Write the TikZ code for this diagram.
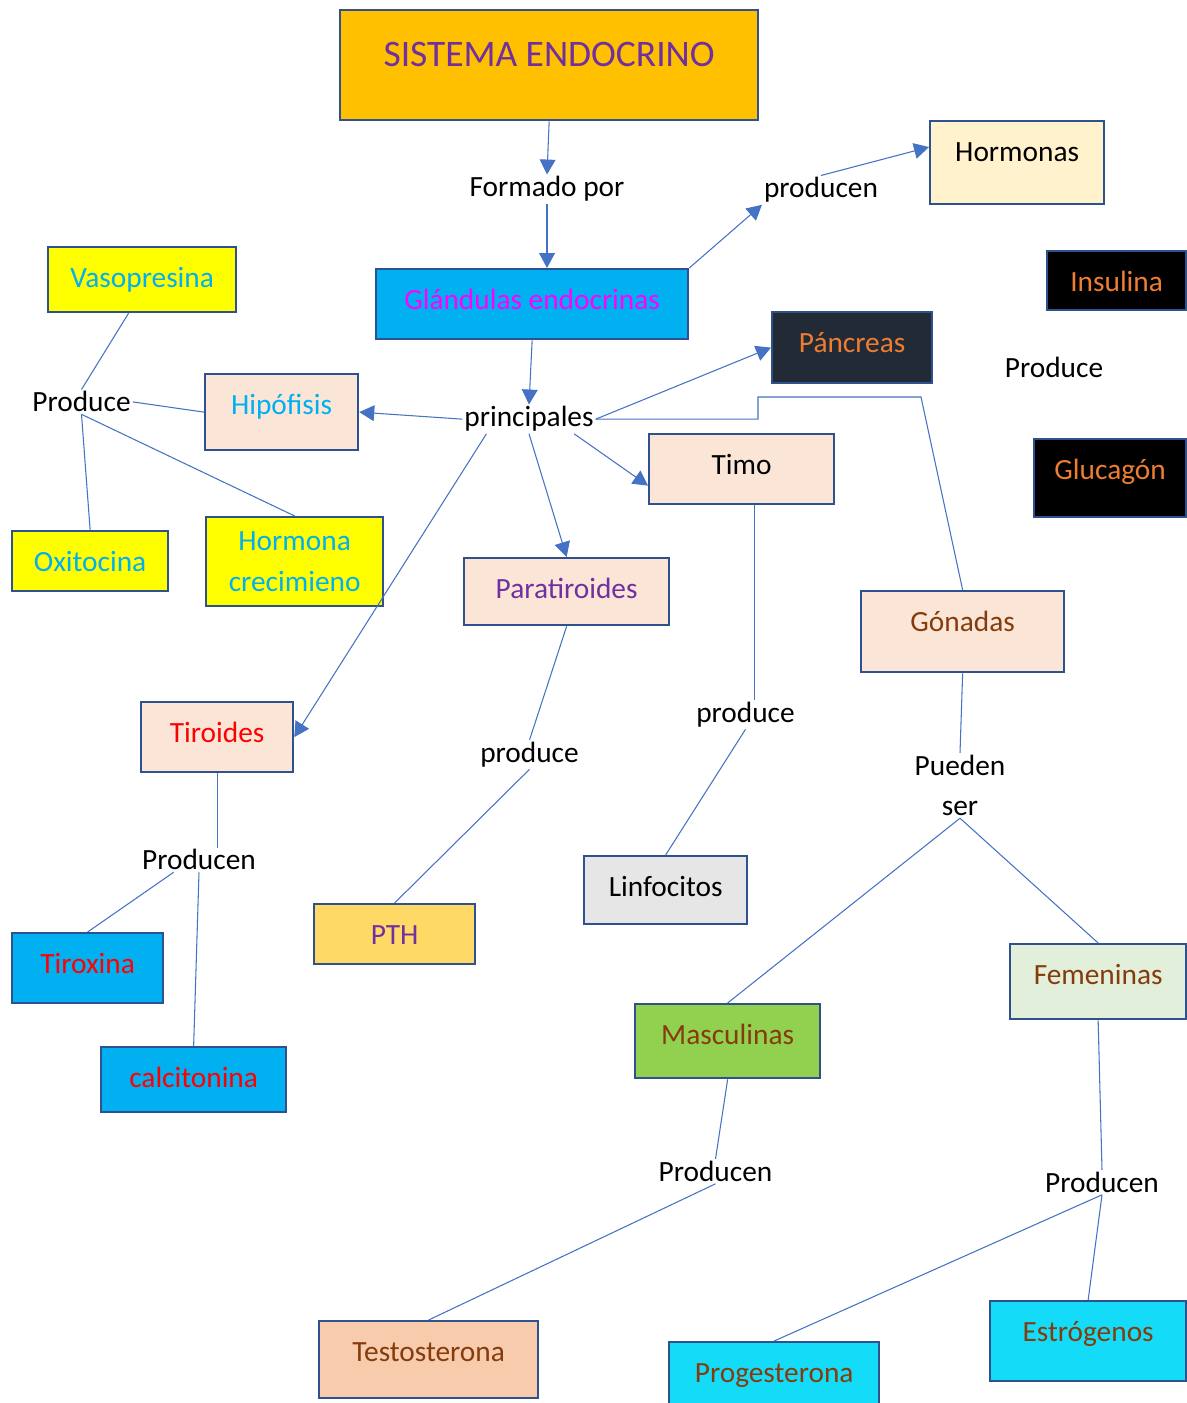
\documentclass[tikz,border=0pt]{standalone}
\usepackage{fontspec}
\setmainfont{Carlito}
\usepackage{xcolor}
\usepackage{tikz}
\usetikzlibrary{arrows.meta, positioning}
\definecolor{eline}{HTML}{4472C4}
\definecolor{eborder}{HTML}{2F528F}
\definecolor{egold}{HTML}{FFC000}
\definecolor{epurple}{HTML}{7030A0}
\definecolor{ecyan}{HTML}{00B0F0}
\definecolor{emagenta}{HTML}{FF00FF}
\definecolor{ecream}{HTML}{FFF2CC}
\definecolor{eorange}{HTML}{ED7D31}
\definecolor{enavy}{HTML}{222A35}
\definecolor{eyellow}{HTML}{FFFF00}
\definecolor{epeach}{HTML}{FBE5D6}
\definecolor{ebrown}{HTML}{843C0C}
\definecolor{ered}{HTML}{FF0000}
\definecolor{esand}{HTML}{FFD966}
\definecolor{egray}{HTML}{E7E6E6}
\definecolor{egreen}{HTML}{92D050}
\definecolor{emint}{HTML}{E2EFDA}
\definecolor{esalmon}{HTML}{F8CBAD}
\definecolor{eaqua}{HTML}{14DCF8}

\newcommand{\lab}{\fontsize{16.7}{23}\selectfont}
\newcommand{\biglab}{\fontsize{21.3}{25}\selectfont}

\tikzset{
  box/.style={draw=eborder, line width=1.3pt, anchor=north west, inner xsep=2pt, inner ysep=0pt, font=\lab},
  toptext/.style={text height=0.8cm, text depth=#1},
  word/.style={font=\lab, inner sep=1pt, anchor=base},
  link/.style={draw=eline, line width=0.6pt},
  arr/.style={link, -{Triangle[length=8.5pt, width=9pt]}}
}

\begin{document}
\begin{tikzpicture}[x=1cm, y=1cm]

  \fill[white] (0,0) rectangle (23.74,28.06);
  \useasboundingbox (0,0) rectangle (23.74,28.06);

  %% Top of the map
  \node[box, fill=egold, text=epurple, font=\biglab, minimum width=8.36cm, text height=1.12cm, text depth=1.08cm] (title) at (6.78,27.88) {SISTEMA ENDOCRINO};
  \node[box, fill=ecyan, text=emagenta, minimum width=6.24cm, toptext=0.60cm] (gland) at (7.50,22.70) {Glándulas endocrinas};
  \node[box, fill=ecream, minimum width=3.48cm, toptext=0.86cm] (horm) at (18.58,25.66) {Hormonas};

  %% Pancreas and its hormones
  \node[box, fill=black, text=eorange, minimum width=2.78cm, toptext=0.38cm] (insul) at (20.92,23.06) {Insulina};
  \node[box, fill=black, text=eorange, minimum width=3.04cm, toptext=0.76cm] (gluc) at (20.66,19.30) {Glucagón};
  \node[box, fill=enavy, text=eorange, minimum width=3.20cm, toptext=0.62cm] (panc) at (15.42,21.84) {Páncreas};

  %% Hipofisis branch
  \node[box, fill=eyellow, text=ecyan, minimum width=3.76cm, toptext=0.50cm] (vaso) at (0.94,23.14) {Vasopresina};
  \node[box, fill=epeach, text=ecyan, minimum width=3.06cm, toptext=0.72cm] (hipo) at (4.08,20.60) {Hipófisis};
  \node[box, fill=eyellow, text=ecyan, minimum width=3.12cm, toptext=0.40cm] (oxi) at (0.22,17.46) {Oxitocina};
  \node[box, fill=eyellow, text=ecyan, minimum width=3.54cm, minimum height=1.78cm, align=center] (hgc) at (4.10,17.74) {Hormona\\crecimieno};

  %% Other glands
  \node[box, fill=epeach, minimum width=3.70cm, toptext=0.60cm] (timo) at (12.96,19.40) {Timo};
  \node[box, fill=epeach, text=epurple, minimum width=4.10cm, toptext=0.54cm] (para) at (9.26,16.92) {Paratiroides};
  \node[box, fill=epeach, text=ebrown, minimum width=4.06cm, toptext=0.82cm] (gon) at (17.20,16.26) {Gónadas};
  \node[box, fill=epeach, text=ered, minimum width=3.04cm, toptext=0.60cm] (tiro) at (2.80,14.04) {Tiroides};

  %% Products
  \node[box, fill=ecyan, text=ered, minimum width=3.02cm, toptext=0.60cm] (tirox) at (0.22,9.42) {Tiroxina};
  \node[box, fill=ecyan, text=ered, minimum width=3.70cm, toptext=0.50cm] (calci) at (2.00,7.14) {calcitonina};
  \node[box, fill=esand, text=epurple, minimum width=3.22cm, toptext=0.40cm] (pth) at (6.26,10.00) {PTH};
  \node[box, fill=egray, minimum width=3.26cm, toptext=0.56cm] (linfo) at (11.66,10.96) {Linfocitos};
  \node[box, fill=egreen, text=ebrown, minimum width=3.70cm, toptext=0.68cm] (masc) at (12.68,8.00) {Masculinas};
  \node[box, fill=emint, text=ebrown, minimum width=3.52cm, toptext=0.70cm] (feme) at (20.18,9.20) {Femeninas};
  \node[box, fill=esalmon, text=ebrown, minimum width=4.38cm, toptext=0.74cm] (testo) at (6.36,1.66) {Testosterona};
  \node[box, fill=eaqua, text=ebrown, minimum width=4.20cm, toptext=0.44cm] (proge) at (13.36,1.24) {Progesterona};
  \node[box, fill=eaqua, text=ebrown, minimum width=3.92cm, toptext=0.80cm] (estro) at (19.78,2.06) {Estrógenos};

  %% Linking words
  \node[word] (formado) at (10.94,24.12) {Formado por};
  \node[word] (producen) at (16.42,24.10) {producen};
  \node[word] (princ) at (10.58,19.52) {principales};
  \node[word] (prodL) at (1.63,19.82) {Produce};
  \node[word] (prodR) at (21.08,20.50) {Produce};
  \node[word] (prodT) at (3.98,10.66) {Producen};
  \node[word] (prodP) at (10.59,12.81) {produce};
  \node[word] (prodTi) at (14.91,13.61) {produce};
  \node[word, align=center, anchor=north] (pueden) at (19.20,13.00) {Pueden\\ser};
  \node[word] (prodM) at (14.31,4.43) {Producen};
  \node[word] (prodF) at (22.04,4.21) {Producen};

  %% Arrows from the top
  \draw[arr] (title.south) -- (formado.north);
  \draw[arr] (formado.south) -- (formado.south |- gland.north);
  \draw[arr] (gland.north east) -- (producen.south west);
  \draw[arr] (producen.north) -- (horm.170);
  \draw[arr] (gland.south) -- (princ.north);

  %% principales
  \draw[arr] (princ.west) -- (hipo.east);
  \draw[arr] (princ.east) -- (panc.west);
  \draw[arr] (princ.199) -- (tiro.east);
  \draw[arr] (princ.south) -- (para.north);
  \draw[arr] (princ.342) -- (timo.190);
  \coordinate (gstep) at (15.16,20.12);
  \coordinate (gbend) at (18.42,20.12);
  \draw[link] (princ.east) -- (princ.east -| gstep) -- (gstep) -- (gbend) -- (gon.north);

  %% Hipofisis
  \draw[link] (vaso.248) -- (prodL.north);
  \draw[link] (prodL.east) -- (hipo.west);
  \draw[link] (prodL.south) -- (oxi.north);
  \draw[link] (prodL.south) -- (hgc.north);

  %% Tiroides, Paratiroides, Timo
  \draw[link] (tiro.south) -- (tiro.south |- prodT.north);
  \draw[link] (prodT.206) -- (tirox.north);
  \draw[link] (prodT.south) -- (calci.north);
  \draw[link] (para.south) -- (prodP.north);
  \draw[link] (prodP.south) -- (pth.north);
  \draw[link] (timo.289) -- (timo.289 |- prodTi.north);
  \draw[link] (prodTi.south) -- (linfo.north);

  %% Gonadas
  \draw[link] (gon.south) -- (pueden.north);
  \draw[link] (pueden.south) -- (masc.north);
  \draw[link] (pueden.south) -- (feme.north);
  \draw[link] (masc.south) -- (prodM.north);
  \draw[link] (prodM.south) -- (testo.north);
  \draw[link] (feme.south) -- (prodF.north);
  \draw[link] (prodF.south) -- (proge.north);
  \draw[link] (prodF.south) -- (estro.north);

\end{tikzpicture}
\end{document}
